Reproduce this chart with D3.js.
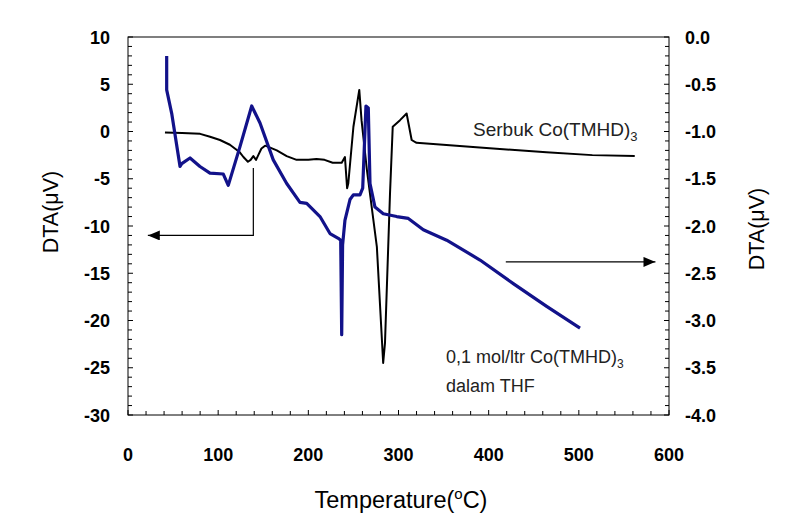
<!DOCTYPE html>
<html><head><meta charset="utf-8">
<script src="https://cdn.jsdelivr.net/npm/d3@7"></script>
<style>body{margin:0;background:#fff}svg{display:block}text{font-family:Arial,"Liberation Sans",sans-serif}</style>
</head><body>
<svg id="c" width="804" height="531"></svg>
<script>
// Black curve: powder Co(TMHD)3, left axis
const blackT = [41,60,80,91,102,113,124,128,133,136,139,142,145,148,152,155,165,176,187,200,209,218,227,237,240.6,243,244.3,250,256.5,259,265,276,283,285,290.6,293.6,301.7,309,314.6,320,390,464,515,562];
const blackV = [-0.1,-0.15,-0.25,-0.55,-0.9,-1.4,-2.2,-2.7,-3.2,-3.0,-2.6,-3.0,-2.4,-1.8,-1.5,-1.6,-2.0,-2.6,-3.0,-3.0,-2.9,-3.0,-3.3,-3.3,-2.7,-6.0,-5.5,0.5,4.4,1.2,-4.1,-12.2,-24.5,-22.4,-6.5,0.5,1.2,1.9,-0.9,-1.2,-1.7,-2.2,-2.5,-2.6];
// Blue curve: 0,1 mol/ltr Co(TMHD)3 in THF, right axis
const blueT = [42.9,42.9,48.5,57.7,59.6,68.8,79.8,90.9,105.7,111.2,124.2,137.2,146.4,161.1,176,190.7,198.2,212.9,224,233.2,235.9,237,238,240.6,246.2,249.9,257.3,260.3,263.9,266.5,268.4,273.9,283.1,298,310.9,327.5,353.4,390.4,427.3,464.3,501.3];
const blueV = [-0.2,-0.56,-0.81,-1.37,-1.34,-1.28,-1.37,-1.44,-1.45,-1.57,-1.16,-0.73,-0.91,-1.30,-1.55,-1.75,-1.76,-1.90,-2.08,-2.13,-2.15,-3.15,-2.2,-1.94,-1.72,-1.67,-1.67,-1.60,-0.73,-0.75,-1.55,-1.80,-1.87,-1.90,-1.92,-2.04,-2.15,-2.36,-2.61,-2.85,-3.08];
const xTicks = [0,100,200,300,400,500,600];
const leftTicks = [10,5,0,-5,-10,-15,-20,-25,-30];
const rightTicks = [0,-0.5,-1,-1.5,-2,-2.5,-3,-3.5,-4];

const svg = d3.select("#c");
const L=128, R=669, T=37, B=415;
const x = d3.scaleLinear().domain([0,600]).range([L,R]);
const yL = d3.scaleLinear().domain([-30,10]).range([B,T]);
const yR = d3.scaleLinear().domain([-4,0]).range([B,T]);

// frame
svg.append("rect").attr("x",L).attr("y",T).attr("width",R-L).attr("height",B-T)
  .attr("fill","none").attr("stroke","#000").attr("stroke-width",1);

// bottom axis ticks (inside)
const xMinor = d3.range(0,601,20);
svg.append("g").selectAll("line").data(xMinor).join("line")
  .attr("x1",d=>x(d)).attr("x2",d=>x(d)).attr("y1",B).attr("y2",d=>B-(d%100===0?5:4))
  .attr("stroke","#000");
svg.append("g").selectAll("text").data(xTicks).join("text")
  .attr("x",d=>x(d)).attr("y",461).attr("text-anchor","middle")
  .attr("font-size",18).attr("font-weight","bold").text(d=>String(d));

// left axis ticks
const lMinor = d3.range(-30,11,1);
svg.append("g").selectAll("line").data(lMinor).join("line")
  .attr("x1",L).attr("x2",d=>L+(d%5===0?5:4)).attr("y1",d=>yL(d)).attr("y2",d=>yL(d))
  .attr("stroke","#000");
svg.append("g").selectAll("text").data(leftTicks).join("text")
  .attr("x",110).attr("y",d=>yL(d)+6.5).attr("text-anchor","end")
  .attr("font-size",18).attr("font-weight","bold").text(d=>String(d));

// right axis ticks
const rMinor = d3.range(0,41,1).map(i=>-i/10);
svg.append("g").selectAll("line").data(rMinor).join("line")
  .attr("x1",R).attr("x2",(d,i)=>R-(i%5===0?5:4)).attr("y1",d=>yR(d)).attr("y2",d=>yR(d))
  .attr("stroke","#000");
svg.append("g").selectAll("text").data(rightTicks).join("text")
  .attr("x",685).attr("y",d=>yR(d)+6.5).attr("text-anchor","start")
  .attr("font-size",18).attr("font-weight","bold").text(d=>d.toFixed(1));

// axis titles
svg.append("text").attr("transform",`translate(57.5,212) rotate(-90)`).attr("text-anchor","middle")
  .attr("font-size",21.5).text("DTA(μV)");
svg.append("text").attr("transform",`translate(763.5,229) rotate(-90)`).attr("text-anchor","middle")
  .attr("font-size",21.5).text("DTA(μV)");
const xt = svg.append("text").attr("x",401).attr("y",508).attr("text-anchor","middle").attr("font-size",23.5);
xt.append("tspan").text("Temperature(");
xt.append("tspan").attr("font-size",15).attr("dy",-9).text("o");
xt.append("tspan").attr("dy",9).text("C)");

// curves
const lineB = d3.line().x((d,i)=>x(blackT[i])).y((d,i)=>yL(blackV[i]));
svg.append("path").datum(blackT).attr("d",lineB).attr("fill","none")
  .attr("stroke","#000").attr("stroke-width",2).attr("stroke-linejoin","round");
const lineU = d3.line().x((d,i)=>x(blueT[i])).y((d,i)=>yR(blueV[i]));
svg.append("path").datum(blueT).attr("d",lineU).attr("fill","none")
  .attr("stroke","#12128a").attr("stroke-width",3.2).attr("stroke-linejoin","round");

// arrows
svg.append("defs").append("marker").attr("id","ah").attr("viewBox","0 0 12 10")
  .attr("refX",12).attr("refY",5).attr("markerWidth",12).attr("markerHeight",10)
  .attr("markerUnits","userSpaceOnUse").attr("orient","auto")
  .append("path").attr("d","M0,0L12,5L0,10Z").attr("fill","#000");
svg.append("path").attr("d",`M${x(139)},168V${yL(-11)}H${x(22)}`)
  .attr("fill","none").attr("stroke","#000").attr("stroke-width",1.2).attr("marker-end","url(#ah)");
svg.append("path").attr("d",`M${x(419)},${yR(-2.38)}H${x(585)}`)
  .attr("fill","none").attr("stroke","#000").attr("stroke-width",1.2).attr("marker-end","url(#ah)");

// annotations
const a1 = svg.append("text").attr("x",473).attr("y",136).attr("font-size",19).attr("fill","#222");
a1.append("tspan").text("Serbuk Co(TMHD)");
a1.append("tspan").attr("font-size",13).attr("dy",5).text("3");
const a2 = svg.append("text").attr("x",446).attr("y",363).attr("font-size",18).attr("fill","#222");
a2.append("tspan").text("0,1 mol/ltr Co(TMHD)");
a2.append("tspan").attr("font-size",12).attr("dy",5).text("3");
svg.append("text").attr("x",446).attr("y",392).attr("font-size",18).attr("fill","#222").text("dalam THF");
</script>
</body></html>
